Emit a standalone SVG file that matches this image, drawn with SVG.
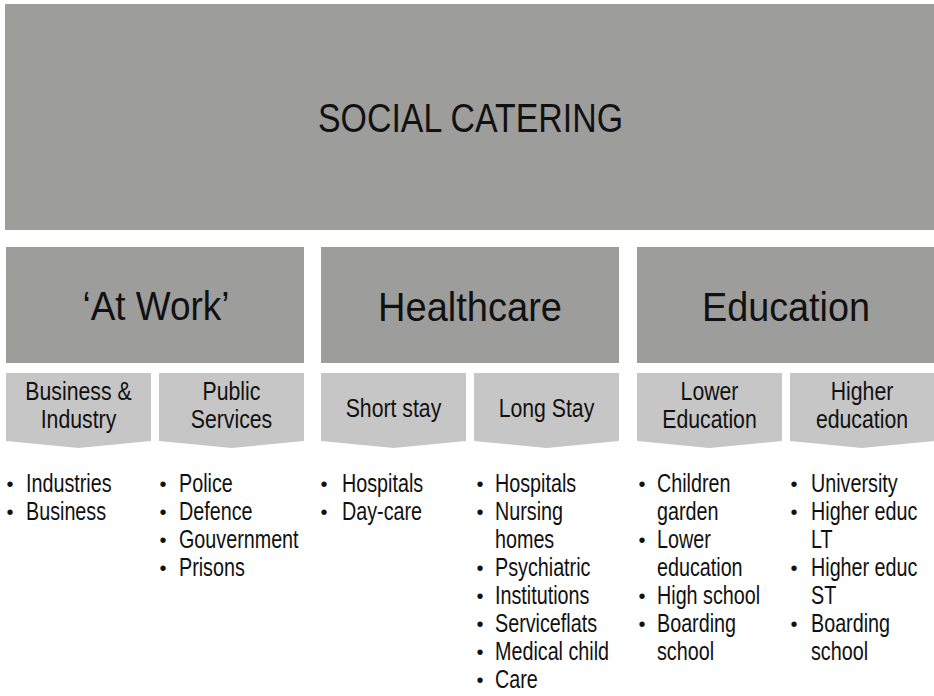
<svg xmlns="http://www.w3.org/2000/svg" width="934" height="696" viewBox="0 0 934 696">
<style>
.dark{fill:#9d9d9c}
.light{fill:#c6c6c6}
.big{font-family:"Liberation Sans",Arial,sans-serif;font-size:40px;fill:#111;text-anchor:middle}
.sub{font-family:"Liberation Sans",Arial,sans-serif;font-size:25px;fill:#111;text-anchor:middle}
.li{font-family:"Liberation Sans",Arial,sans-serif;font-size:25px;fill:#111}
.bul{font-family:"Liberation Sans",Arial,sans-serif;font-size:20px;fill:#111;text-anchor:middle}
</style>
<rect width="934" height="696" fill="#fff"/>
<g id="social-catering">
<rect class="dark" x="5" y="4" width="929" height="226"/>
<text class="big" x="470.5" y="132" textLength="305" lengthAdjust="spacingAndGlyphs">SOCIAL CATERING</text>
</g>
<g id="at-work">
<rect class="dark" x="6" y="247" width="298" height="116"/>
<text class="big" x="156" y="320" textLength="147" lengthAdjust="spacingAndGlyphs">‘At Work’</text>
</g>
<g id="healthcare">
<rect class="dark" x="321" y="247" width="298" height="116"/>
<text class="big" x="470" y="321" textLength="184" lengthAdjust="spacingAndGlyphs">Healthcare</text>
</g>
<g id="education">
<rect class="dark" x="637" y="247" width="297" height="116"/>
<text class="big" x="786" y="321" textLength="168" lengthAdjust="spacingAndGlyphs">Education</text>
</g>
<g id="business-industry">
<path class="light" d="M6,373H151V441L78.5,448L6,441Z"/>
<g transform="scale(0.85 1)">
<text class="sub" x="92.35" y="400">Business &amp;</text>
<text class="sub" x="92.35" y="428">Industry</text>
</g>
</g>
<g id="public-services">
<path class="light" d="M159,373H304V441L231.5,448L159,441Z"/>
<g transform="scale(0.85 1)">
<text class="sub" x="272.35" y="400">Public</text>
<text class="sub" x="272.35" y="428">Services</text>
</g>
</g>
<g id="short-stay">
<path class="light" d="M321,373H466V441L393.5,448L321,441Z"/>
<g transform="scale(0.85 1)">
<text class="sub" x="462.94" y="417">Short stay</text>
</g>
</g>
<g id="long-stay">
<path class="light" d="M474,373H619V441L546.5,448L474,441Z"/>
<g transform="scale(0.85 1)">
<text class="sub" x="642.94" y="417">Long Stay</text>
</g>
</g>
<g id="lower-education">
<path class="light" d="M637,373H782V441L709.5,448L637,441Z"/>
<g transform="scale(0.85 1)">
<text class="sub" x="834.71" y="400">Lower</text>
<text class="sub" x="834.71" y="428">Education</text>
</g>
</g>
<g id="higher-education">
<path class="light" d="M790,373H934V441L862,448L790,441Z"/>
<g transform="scale(0.85 1)">
<text class="sub" x="1014.12" y="400">Higher</text>
<text class="sub" x="1014.12" y="428">education</text>
</g>
</g>
<g id="list-business-industry">
<text class="bul" x="10" y="491">•</text>
<text class="bul" x="10" y="519">•</text>
<g transform="scale(0.79 1)">
<text class="li" x="32.91" y="492">Industries</text>
<text class="li" x="32.91" y="520">Business</text>
</g>
</g>
<g id="list-public-services">
<text class="bul" x="163" y="491">•</text>
<text class="bul" x="163" y="519">•</text>
<text class="bul" x="163" y="547">•</text>
<text class="bul" x="163" y="575">•</text>
<g transform="scale(0.79 1)">
<text class="li" x="226.58" y="492">Police</text>
<text class="li" x="226.58" y="520">Defence</text>
<text class="li" x="226.58" y="548">Gouvernment</text>
<text class="li" x="226.58" y="576">Prisons</text>
</g>
</g>
<g id="list-short-stay">
<text class="bul" x="324" y="491">•</text>
<text class="bul" x="324" y="519">•</text>
<g transform="scale(0.79 1)">
<text class="li" x="432.91" y="492">Hospitals</text>
<text class="li" x="432.91" y="520">Day-care</text>
</g>
</g>
<g id="list-long-stay">
<text class="bul" x="480" y="491">•</text>
<text class="bul" x="480" y="519">•</text>
<text class="bul" x="480" y="575">•</text>
<text class="bul" x="480" y="603">•</text>
<text class="bul" x="480" y="631">•</text>
<text class="bul" x="480" y="659">•</text>
<text class="bul" x="480" y="687">•</text>
<g transform="scale(0.79 1)">
<text class="li" x="626.58" y="492">Hospitals</text>
<text class="li" x="626.58" y="520">Nursing</text>
<text class="li" x="626.58" y="548">homes</text>
<text class="li" x="626.58" y="576">Psychiatric</text>
<text class="li" x="626.58" y="604">Institutions</text>
<text class="li" x="626.58" y="632">Serviceflats</text>
<text class="li" x="626.58" y="660">Medical child</text>
<text class="li" x="626.58" y="688">Care</text>
</g>
</g>
<g id="list-lower-education">
<text class="bul" x="642" y="491">•</text>
<text class="bul" x="642" y="547">•</text>
<text class="bul" x="642" y="603">•</text>
<text class="bul" x="642" y="631">•</text>
<g transform="scale(0.79 1)">
<text class="li" x="831.65" y="492">Children</text>
<text class="li" x="831.65" y="520">garden</text>
<text class="li" x="831.65" y="548">Lower</text>
<text class="li" x="831.65" y="576">education</text>
<text class="li" x="831.65" y="604">High school</text>
<text class="li" x="831.65" y="632">Boarding</text>
<text class="li" x="831.65" y="660">school</text>
</g>
</g>
<g id="list-higher-education">
<text class="bul" x="794" y="491">•</text>
<text class="bul" x="794" y="519">•</text>
<text class="bul" x="794" y="575">•</text>
<text class="bul" x="794" y="631">•</text>
<g transform="scale(0.79 1)">
<text class="li" x="1026.58" y="492">University</text>
<text class="li" x="1026.58" y="520">Higher educ</text>
<text class="li" x="1026.58" y="548">LT</text>
<text class="li" x="1026.58" y="576">Higher educ</text>
<text class="li" x="1026.58" y="604">ST</text>
<text class="li" x="1026.58" y="632">Boarding</text>
<text class="li" x="1026.58" y="660">school</text>
</g>
</g>
</svg>
